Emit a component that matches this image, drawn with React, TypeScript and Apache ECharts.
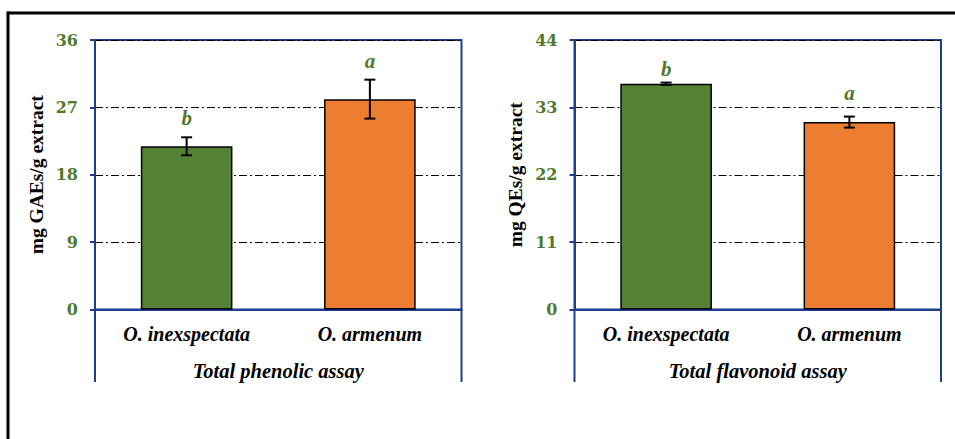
import React, { useEffect, useRef } from "react";
import * as echarts from "echarts";

const categories = ["O. inexspectata", "O. armenum"];
const phenolicValues = [21.8, 28.1];
const phenolicErrors = [1.2, 2.6];
const phenolicLetters = ["b", "a"];
const phenolicLetterPos = [25.6, 33.2];
const phenolicTicks = [0, 9, 18, 27, 36];

const flavonoidValues = [36.85, 30.6];
const flavonoidErrors = [0.2, 0.9];
const flavonoidLetters = ["b", "a"];
const flavonoidLetterPos = [39.25, 35.4];
const flavonoidTicks = [0, 11, 22, 33, 44];

const barColors = ["#548235", "#ED7D31"];
const NAVY = "#203E8F";
const GREEN = "#4F7A2E";
const FONT = "Liberation Serif";
const TICKFONT = "DejaVu Serif";

const W = 955;
const H = 439;
const grids = [
  { left: 95, top: 40, width: 366.5, height: 269.5 },
  { left: 574.5, top: 40, width: 366.5, height: 269.5 },
];
const extBottom = 382;

export default function App() {
  const ref = useRef<HTMLDivElement>(null);
  useEffect(() => {
    if (!ref.current) return;
    const chart = echarts.init(ref.current, null, { renderer: "svg" });

    const mkErr = (vals: number[], errs: number[], gi: number) => ({
      type: "custom",
      xAxisIndex: gi,
      yAxisIndex: gi,
      z: 5,
      data: vals.map((v, i) => [i, v, errs[i]]),
      renderItem: (params: any, api: any) => {
        const x = api.value(0);
        const v = api.value(1);
        const e = api.value(2);
        const hi = api.coord([x, v + e]);
        const lo = api.coord([x, v - e]);
        const cap = 5.5;
        const st = { stroke: "#000", lineWidth: 2 };
        return {
          type: "group",
          children: [
            { type: "line", shape: { x1: hi[0], y1: hi[1], x2: lo[0], y2: lo[1] }, style: st },
            { type: "line", shape: { x1: hi[0] - cap, y1: hi[1], x2: hi[0] + cap, y2: hi[1] }, style: st },
            { type: "line", shape: { x1: lo[0] - cap, y1: lo[1], x2: lo[0] + cap, y2: lo[1] }, style: st },
          ],
        };
      },
    });

    const mkLetters = (letters: string[], pos: number[], gi: number) => ({
      type: "custom",
      xAxisIndex: gi,
      yAxisIndex: gi,
      z: 6,
      data: pos.map((p, i) => [i, p, letters[i]]),
      renderItem: (params: any, api: any) => {
        const pt = api.coord([api.value(0), api.value(1)]);
        return {
          type: "text",
          x: pt[0],
          y: pt[1],
          style: {
            text: letters[params.dataIndex],
            fill: GREEN,
            font: `italic bold 21px "${FONT}"`,
            align: "center",
            verticalAlign: "middle",
          },
        };
      },
    });

    const yAxisCommon = (gi: number, ticks: number[], name: string) => ({
      type: "value",
      gridIndex: gi,
      min: ticks[0],
      max: ticks[ticks.length - 1],
      interval: ticks[1] - ticks[0],
      name,
      nameLocation: "middle",
      nameGap: 49,
      nameTextStyle: { fontFamily: FONT, fontWeight: "bold", fontSize: 19.5, color: "#000" },
      axisLine: { show: true, lineStyle: { color: NAVY, width: 2 } },
      axisTick: { show: true, inside: false, length: 5, lineStyle: { color: NAVY, width: 2 } },
      axisLabel: { margin: 17, fontFamily: TICKFONT, fontWeight: "bold", fontSize: 16, color: GREEN },
      splitLine: { show: true, lineStyle: { color: "#000", width: 1, type: [8, 3, 2, 3] } },
    });

    const xAxisCommon = (gi: number, name: string) => ({
      type: "category",
      gridIndex: gi,
      data: categories,
      name,
      nameLocation: "middle",
      nameGap: 51,
      nameTextStyle: { fontFamily: FONT, fontWeight: "bold", fontStyle: "italic", fontSize: 20.5, color: "#000" },
      axisLine: { show: true, lineStyle: { color: NAVY, width: 2 } },
      axisTick: { show: false },
      axisLabel: { margin: 14, fontFamily: FONT, fontWeight: "bold", fontStyle: "italic", fontSize: 20, color: "#000" },
      splitLine: { show: false },
    });

    const graphics: any[] = [
      { type: "line", shape: { x1: 7, y1: 13, x2: W, y2: 13 }, style: { stroke: "#000", lineWidth: 3 } },
      { type: "line", shape: { x1: 8, y1: 11.5, x2: 8, y2: H }, style: { stroke: "#000", lineWidth: 3 } },
    ];
    grids.forEach((g) => {
      const yb = g.top + g.height;
      [g.left, g.left + g.width].forEach((x) => {
        graphics.push({
          type: "line",
          shape: { x1: x, y1: yb, x2: x, y2: extBottom },
          style: { stroke: NAVY, lineWidth: 2 },
        });
      });
    });

    chart.setOption({
      animation: false,
      backgroundColor: "#fff",
      grid: grids.map((g) => ({ ...g, show: true, borderColor: NAVY, borderWidth: 2, backgroundColor: "transparent" })),
      xAxis: [xAxisCommon(0, "Total phenolic assay"), xAxisCommon(1, "Total flavonoid assay")],
      yAxis: [
        yAxisCommon(0, phenolicTicks, "mg GAEs/g extract"),
        yAxisCommon(1, flavonoidTicks, "mg QEs/g extract"),
      ],
      series: [
        {
          type: "bar",
          xAxisIndex: 0,
          yAxisIndex: 0,
          barWidth: "50%",
          data: phenolicValues.map((v, i) => ({ value: v, itemStyle: { color: barColors[i] } })),
          itemStyle: { borderColor: "#000", borderWidth: 1.5 },
          z: 3,
        },
        {
          type: "bar",
          xAxisIndex: 1,
          yAxisIndex: 1,
          barWidth: "50%",
          data: flavonoidValues.map((v, i) => ({ value: v, itemStyle: { color: barColors[i] } })),
          itemStyle: { borderColor: "#000", borderWidth: 1.5 },
          z: 3,
        },
        mkErr(phenolicValues, phenolicErrors, 0),
        mkErr(flavonoidValues, flavonoidErrors, 1),
        mkLetters(phenolicLetters, phenolicLetterPos, 0),
        mkLetters(flavonoidLetters, flavonoidLetterPos, 1),
      ],
      graphic: graphics,
    });
    return () => chart.dispose();
  }, []);
  return (
    <div
      ref={ref}
      style={{ position: "fixed", left: 0, top: 0, width: W, height: H, background: "#fff" }}
    />
  );
}
